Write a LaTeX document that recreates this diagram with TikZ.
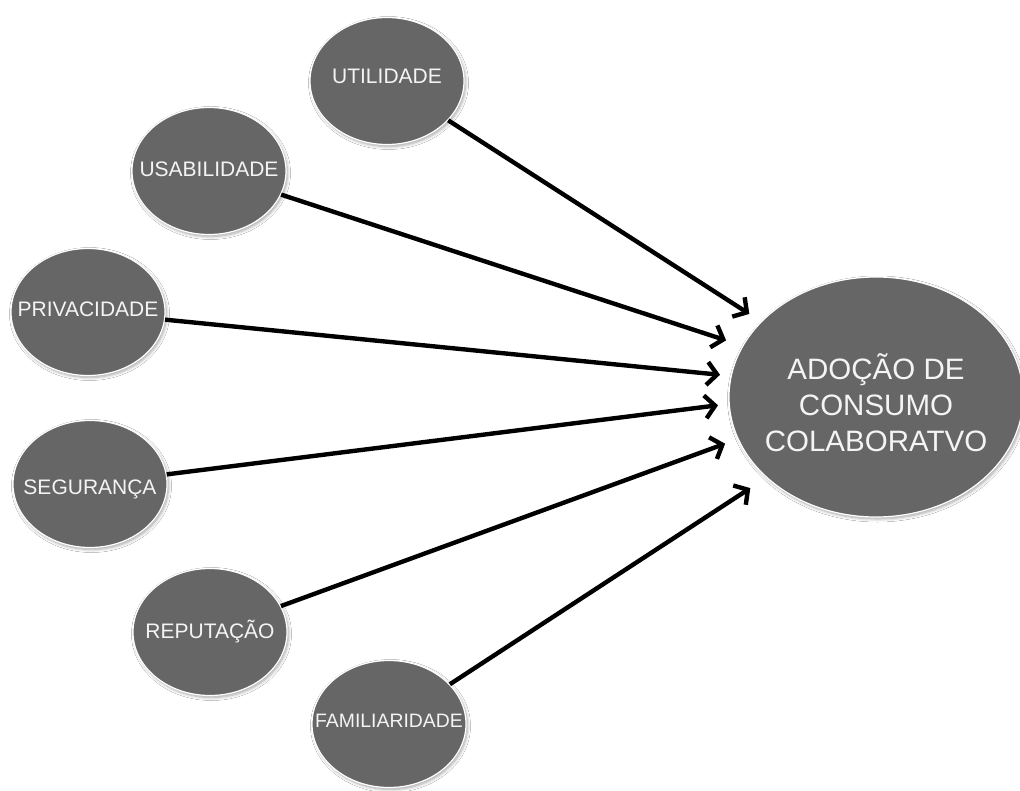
\documentclass[tikz,border=0pt]{standalone}
\usepackage{fontspec}
\setmainfont{Liberation Sans}
\usetikzlibrary{shapes.geometric,arrows.meta,shadows.blur}
\newcommand{\lowered}[2]{\makebox[0pt]{\raisebox{-#1pt}[0pt][0pt]{#2}}}
\begin{document}
\begin{tikzpicture}[x=1pt,y=-1pt,
  bubble/.style={ellipse, fill=bubblegray, draw=white, line width=1.2pt,
    inner sep=0pt, text=textwhite,
    blur shadow={shadow blur steps=6, shadow xshift=1.5pt, shadow yshift=-2pt, shadow opacity=35, shadow blur radius=3pt}},
  small/.style={bubble, minimum width=154pt, minimum height=127pt, font=\fontsize{21}{25}\selectfont},
  big/.style={bubble, minimum width=294pt, minimum height=240pt, font=\fontsize{29.5}{36}\selectfont},
  arr/.style={line width=4.4pt, black, -{Straight Barb[length=10pt,width=23pt,line width=4.4pt]}, shorten >=2pt}
]
\definecolor{bubblegray}{HTML}{666666}
\definecolor{textwhite}{HTML}{F4F4F4}
\useasboundingbox (0,0) rectangle (1020,791);
\fill[white] (0,0) rectangle (1020,791);

\node[big]   (a)  at (876,397) {\lowered{17.5}{\begin{tabular}{@{}c@{}}ADOÇÃO DE\\CONSUMO\\COLABORATVO\end{tabular}}};

\node[small] (u)  at (387,81)  {\lowered{2.5}{UTILIDADE}};
\node[small] (us) at (209,171) {\lowered{5.7}{USABILIDADE}};
\node[small] (p)  at (88,312)  {\lowered{4.5}{PRIVACIDADE}};
\node[small] (s)  at (90,484)  {\lowered{10.5}{SEGURANÇA}};
\node[small] (r)  at (210,632) {\lowered{6.3}{REPUTAÇÃO}};
\node[small] (f)  at (389,724) {\lowered{3.3}{\fontsize{19.4}{23}\selectfont FAMILIARIDADE}};

\coordinate (t1) at (751,315);
\coordinate (t2) at (728,341);
\coordinate (t3) at (722,375);
\coordinate (t4) at (720,405);
\coordinate (t5) at (727,443);
\coordinate (t6) at (752,487);

\draw[arr] (u)  -- (t1);
\draw[arr] (us) -- (t2);
\draw[arr] (p)  -- (t3);
\draw[arr] (s)  -- (t4);
\draw[arr] (r)  -- (t5);
\draw[arr] (f)  -- (t6);
\end{tikzpicture}
\end{document}
